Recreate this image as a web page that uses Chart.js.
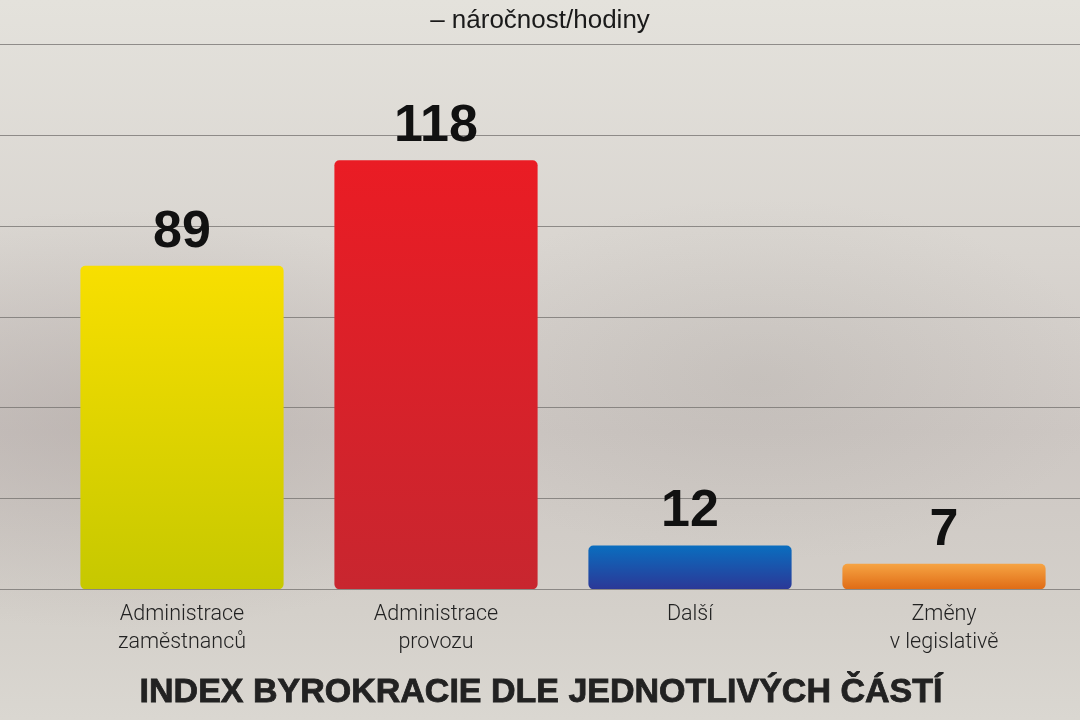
<!DOCTYPE html>
<html>
<head>
<meta charset="utf-8">
<script src="https://cdn.jsdelivr.net/npm/chart.js@4"></script>
<style>
  html, body { margin: 0; padding: 0; }
  body {
    width: 1080px; height: 720px; overflow: hidden;
    background:
      radial-gradient(ellipse 600px 300px at 120px 420px, rgba(165,155,153,0.4), rgba(165,155,153,0) 70%),
      radial-gradient(ellipse 500px 260px at 760px 380px, rgba(150,145,140,0.18), rgba(150,145,140,0) 70%),
      linear-gradient(180deg, #e4e2dc 0%, #d9d5d0 35%, #cdc7c3 60%, #d4d0ca 85%, #dad7d1 100%);
  }
  #wrap { position: relative; width: 1080px; height: 720px; }
  canvas { display: block; }
</style>
</head>
<body>
<div id="wrap"><canvas id="graph" width="1080" height="720"></canvas></div>
<script>
const categories = [
  ['Administrace', 'zaměstnanců'],
  ['Administrace', 'provozu'],
  'Další',
  ['Změny', 'v legislativě'],
]
const hours = [89, 118, 12, 7]
const yTicks = [0, 25, 50, 75, 100, 125, 150]

const subtitleText = '– náročnost/hodiny'
const titleText = 'INDEX BYROKRACIE DLE JEDNOTLIVÝCH ČÁSTÍ'

const barColors = [
  ['#f8df00', '#c6c800'],
  ['#ea1c24', '#c8262f'],
  ['#0a6ebf', '#2b3897'],
  ['#f6a443', '#e06c16'],
]

// full-width grid lines behind the bars
const fullGrid = {
  id: 'fullGrid',
  beforeDatasetsDraw(chart) {
    const { ctx, scales: { y } } = chart
    ctx.save()
    ctx.strokeStyle = 'rgba(115,112,110,0.75)'
    ctx.lineWidth = 1
    yTicks.forEach((v) => {
      const py = Math.round(y.getPixelForValue(v)) + 0.5
      ctx.beginPath()
      ctx.moveTo(0, py)
      ctx.lineTo(chart.width, py)
      ctx.stroke()
    })
    ctx.restore()
  },
}

// value labels above bars
const valueLabels = {
  id: 'valueLabels',
  afterDatasetsDraw(chart) {
    const { ctx } = chart
    const meta = chart.getDatasetMeta(0)
    ctx.save()
    ctx.fillStyle = '#111'
    ctx.font = 'bold 52px "Liberation Sans", Arial, sans-serif'
    ctx.textAlign = 'center'
    ctx.textBaseline = 'alphabetic'
    meta.data.forEach((bar, i) => {
      ctx.fillText(String(hours[i]), bar.x, bar.y - 19)
    })
    ctx.restore()
  },
}

// headings centred on the whole canvas
const headings = {
  id: 'headings',
  afterDraw(chart) {
    const { ctx, width } = chart
    ctx.save()
    ctx.textAlign = 'center'
    ctx.textBaseline = 'middle'
    ctx.fillStyle = '#1a1a1a'
    ctx.font = '26px "Liberation Sans Narrow", "Liberation Sans", sans-serif'
    ctx.fillText(subtitleText, width / 2, 21)
    ctx.fillStyle = '#222'
    ctx.strokeStyle = '#222'
    ctx.lineWidth = 0.8
    ctx.font = 'bold 34px "Liberation Sans", Arial, sans-serif'
    ctx.fillText(titleText, width / 2 + 1, 693)
    ctx.strokeText(titleText, width / 2 + 1, 693)
    ctx.restore()
  },
}

const ctx = document.getElementById('graph')
new Chart(ctx, {
  type: 'bar',
  data: {
    labels: categories,
    datasets: [
      {
        label: 'náročnost/hodiny',
        data: hours,
        borderRadius: 5,
        borderSkipped: false,
        barPercentage: 0.8,
        categoryPercentage: 1,
        backgroundColor: (c) => {
          const chart = c.chart
          const area = chart.chartArea
          const cols = barColors[c.dataIndex]
          if (!area || !cols) return cols ? cols[0] : '#999'
          const y = chart.scales.y
          const top = y.getPixelForValue(hours[c.dataIndex])
          const bottom = y.getPixelForValue(0)
          const g = chart.ctx.createLinearGradient(0, top, 0, bottom)
          g.addColorStop(0, cols[0])
          g.addColorStop(1, cols[1])
          return g
        },
      },
    ],
  },
  options: {
    responsive: false,
    animation: false,
    devicePixelRatio: 1,
    layout: { padding: { left: 55, right: 9, top: 44, bottom: 59 } },
    plugins: {
      legend: { display: false },
      tooltip: { enabled: false },
      title: { display: false },
      subtitle: { display: false },
    },
    scales: {
      x: {
        grid: { display: false },
        border: { display: false },
        ticks: {
          color: '#222',
          padding: 4,
          font: { family: 'Roboto, "Liberation Sans", sans-serif', size: 21.5, weight: 300, lineHeight: 1.3 },
        },
      },
      y: {
        display: false,
        min: 0,
        max: 150,
        ticks: { stepSize: 25 },
      },
    },
  },
  plugins: [fullGrid, valueLabels, headings],
})
</script>
</body>
</html>
